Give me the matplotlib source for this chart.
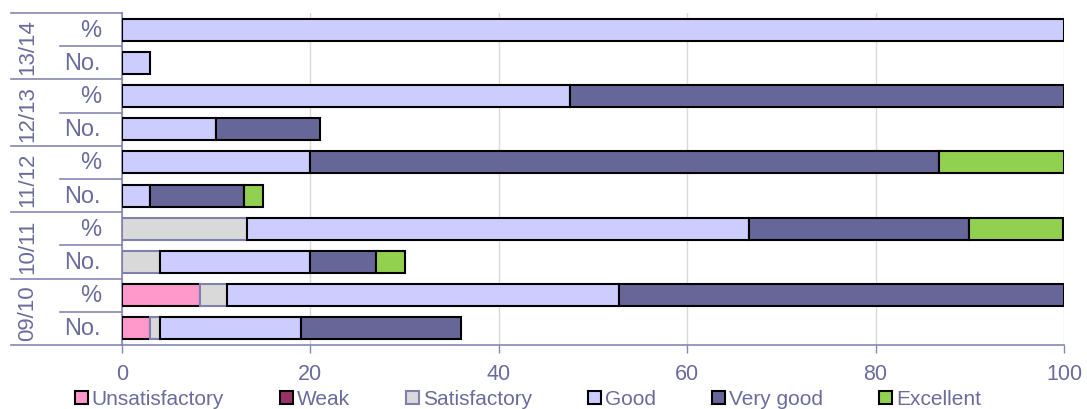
import numpy as np
import matplotlib
matplotlib.use('Agg')
import matplotlib.pyplot as plt
from matplotlib.patches import Patch

plt.rcParams['font.family'] = ['Liberation Sans', 'DejaVu Sans']

# data
years = ['13/14', '12/13', '11/12', '10/11', '09/10']
grades = ['Unsatisfactory', 'Weak', 'Satisfactory', 'Good', 'Very good', 'Excellent']
counts = [
    [0, 0, 0, 3, 0, 0],
    [0, 0, 0, 10, 11, 0],
    [0, 0, 0, 3, 10, 2],
    [0, 0, 4, 16, 7, 3],
    [3, 0, 1, 15, 17, 0],
]
percents = [
    [0, 0, 0, 100, 0, 0],
    [0, 0, 0, 47.6, 52.4, 0],
    [0, 0, 0, 20.0, 66.7, 13.3],
    [0, 0, 13.3, 53.3, 23.3, 10.0],
    [8.3, 0, 2.8, 41.7, 47.2, 0],
]
row_names = ['%', 'No.']

colors = ['#FF99CC', '#993366', '#D9D9D9', '#CCCCFF', '#666699', '#92D050']
edges = ['black', 'black', '#8080B0', 'black', 'black', 'black']
axis_col = '#8686B4'
text_col = '#6B6B9E'

fig = plt.figure(figsize=(10.87, 4.10), dpi=100)
ax = fig.add_axes([122/1087, 1 - 346/410, (1064-122)/1087, (346-14)/410])

# one row per (year, %/No.)
for i, yr in enumerate(years):
    for j, vals in enumerate([percents[i], counts[i]]):
        y = 2*i + j
        left = 0
        for k, v in enumerate(vals):
            if v > 0:
                ax.barh(y, v, left=left, height=0.66, color=colors[k],
                        edgecolor=edges[k], linewidth=1.5, zorder=3)
            left += v

ax.set_ylim(9.5, -0.5)
ax.set_xlim(0, 100)
ax.set_xticks([0, 20, 40, 60, 80, 100])
ax.set_yticks([])
ax.grid(axis='x', color='#D9D9D9', linewidth=1, zorder=0)
ax.tick_params(axis='x', colors=axis_col, labelcolor=text_col, labelsize=15.5,
               length=6, width=1, pad=7)
for s in ['top', 'right']:
    ax.spines[s].set_visible(False)
for s in ['left', 'bottom']:
    ax.spines[s].set_color(axis_col)
    ax.spines[s].set_linewidth(1.2)

# two-level category labels on the left
trans = ax.get_yaxis_transform()
px = lambda p: (p - 122) / 942.0
for i, yr in enumerate(years):
    for j in range(2):
        ax.text(px(101), 2*i + j, row_names[j], transform=trans, ha='right',
                va='center', fontsize=17, color=text_col)
    ax.text(px(28), 2*i + 0.5, yr, transform=trans, ha='center', va='center',
            rotation=90, fontsize=16, color=text_col)
    ax.plot([px(11), 0], [2*i - 0.5, 2*i - 0.5], transform=trans,
            color=axis_col, linewidth=1.2, clip_on=False)
    ax.plot([px(60), 0], [2*i + 0.5, 2*i + 0.5], transform=trans,
            color=axis_col, linewidth=1.2, clip_on=False)
ax.plot([px(11), 0], [9.5, 9.5], transform=trans, color=axis_col,
        linewidth=1.2, clip_on=False)

handles = [Patch(facecolor=colors[k], edgecolor=edges[k], linewidth=1.5)
           for k in range(len(grades))]
leg = fig.legend(handles, grades, loc='center', ncol=6, frameon=False,
                 fontsize=15, handlelength=0.6, handleheight=0.6,
                 handletextpad=0.2, columnspacing=2.7, borderaxespad=0)
leg.set_bbox_to_anchor((528/1087, 1 - 400/410), transform=fig.transFigure)
for t in leg.get_texts():
    t.set_color(text_col)

fig.savefig('out.png', dpi=100)
